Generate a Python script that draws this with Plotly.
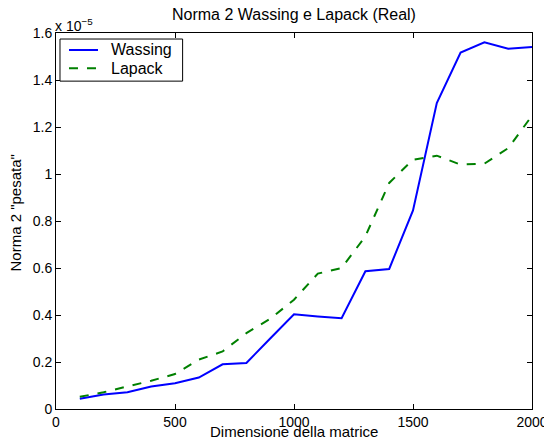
"""Norma 2 Wassing vs Lapack, MATLAB-style line chart."""
import plotly.graph_objects as go

# --- Data (y values in units of 1e-5) ---
DIMENSIONS = [100, 200, 300, 400, 500, 600, 700, 800, 900, 1000,
              1100, 1200, 1300, 1400, 1500, 1600, 1700, 1800, 1900, 2000]
WASSING = [0.044, 0.062, 0.071, 0.096, 0.110, 0.134, 0.190, 0.196, 0.300, 0.403,
           0.394, 0.386, 0.586, 0.596, 0.845, 1.302, 1.517, 1.560, 1.533, 1.540]
LAPACK = [0.052, 0.071, 0.096, 0.120, 0.149, 0.210, 0.245, 0.323, 0.384, 0.465,
          0.576, 0.600, 0.735, 0.962, 1.061, 1.078, 1.040, 1.044, 1.110, 1.248]
SERIES_NAMES = ["Wassing", "Lapack"]
X_TICKS = [0, 500, 1000, 1500, 2000]
Y_TICKS = [0, 0.2, 0.4, 0.6, 0.8, 1, 1.2, 1.4, 1.6]
Y_TICK_LABELS = ["0", "0.2", "0.4", "0.6", "0.8", "1", "1.2", "1.4", "1.6"]

# --- Style ---
FONT = "Liberation Sans, Arial, sans-serif"
LINE_STYLES = [dict(color="#0000ff", width=2),
               dict(color="#008000", width=2, dash="dash")]

# page body has an 8px margin, so the figure is shifted by 8px in the window
FIG_W, FIG_H = 544, 440
MARGIN = dict(l=48, r=20, t=25, b=39)

fig = go.Figure()
for name, ys, style in zip(SERIES_NAMES, [WASSING, LAPACK], LINE_STYLES):
    fig.add_trace(go.Scatter(x=DIMENSIONS, y=ys, mode="lines", name=name,
                             line=style, showlegend=False))

axis_common = dict(showline=True, linecolor="black", linewidth=1, mirror="ticks",
                   ticks="inside", ticklen=5, tickcolor="black", showgrid=False,
                   zeroline=False, automargin=False, ticklabeloverflow="allow",
                   tickfont=dict(size=14, color="black", family=FONT))

fig.update_layout(
    width=FIG_W, height=FIG_H,
    margin=MARGIN,
    plot_bgcolor="white", paper_bgcolor="white",
    font=dict(family=FONT, size=15, color="black"),
    xaxis=dict(range=[0, 2000], tickvals=X_TICKS, **axis_common),
    yaxis=dict(range=[0, 1.6], tickvals=Y_TICKS, ticktext=Y_TICK_LABELS,
               **axis_common),
)

# title and axis labels placed like MATLAB does
fig.add_annotation(xref="paper", yref="paper", x=0.5, y=1, yanchor="middle",
                   yshift=19, showarrow=False,
                   text="Norma 2 Wassing e Lapack (Real)", font=dict(size=16))
fig.add_annotation(xref="paper", yref="paper", x=0.5, y=0, yanchor="middle",
                   yshift=-22, showarrow=False,
                   text="Dimensione della matrice", font=dict(size=15))
fig.add_annotation(xref="paper", yref="paper", x=0, y=0.52, xanchor="center",
                   xshift=-41, textangle=-90, showarrow=False,
                   text='Norma 2 "pesata"', font=dict(size=15))

# MATLAB-style exponent label above the y axis
fig.add_annotation(xref="paper", yref="paper", x=0, y=1, xanchor="left",
                   yanchor="bottom", showarrow=False, yshift=-3, xshift=-3,
                   text="x 10<sup>\u22125</sup>", font=dict(size=14))

# MATLAB-style legend box in the upper-left corner
fig.add_shape(type="rect", xref="paper", yref="paper",
              x0=0.0084, x1=0.266, y0=0.872, y1=0.984,
              line=dict(color="black", width=1), fillcolor="white")
for i, (name, style) in enumerate(zip(SERIES_NAMES, LINE_STYLES)):
    row_y = 0.9548 - i * 0.0487
    fig.add_shape(type="line", xref="paper", yref="paper",
                  x0=0.0273, x1=0.0882, y0=row_y, y1=row_y, line=style)
    fig.add_annotation(xref="paper", yref="paper", x=0.1113, y=row_y,
                       xanchor="left", yanchor="middle", showarrow=False,
                       text=name, font=dict(size=16))

fig.write_html("out.html")
